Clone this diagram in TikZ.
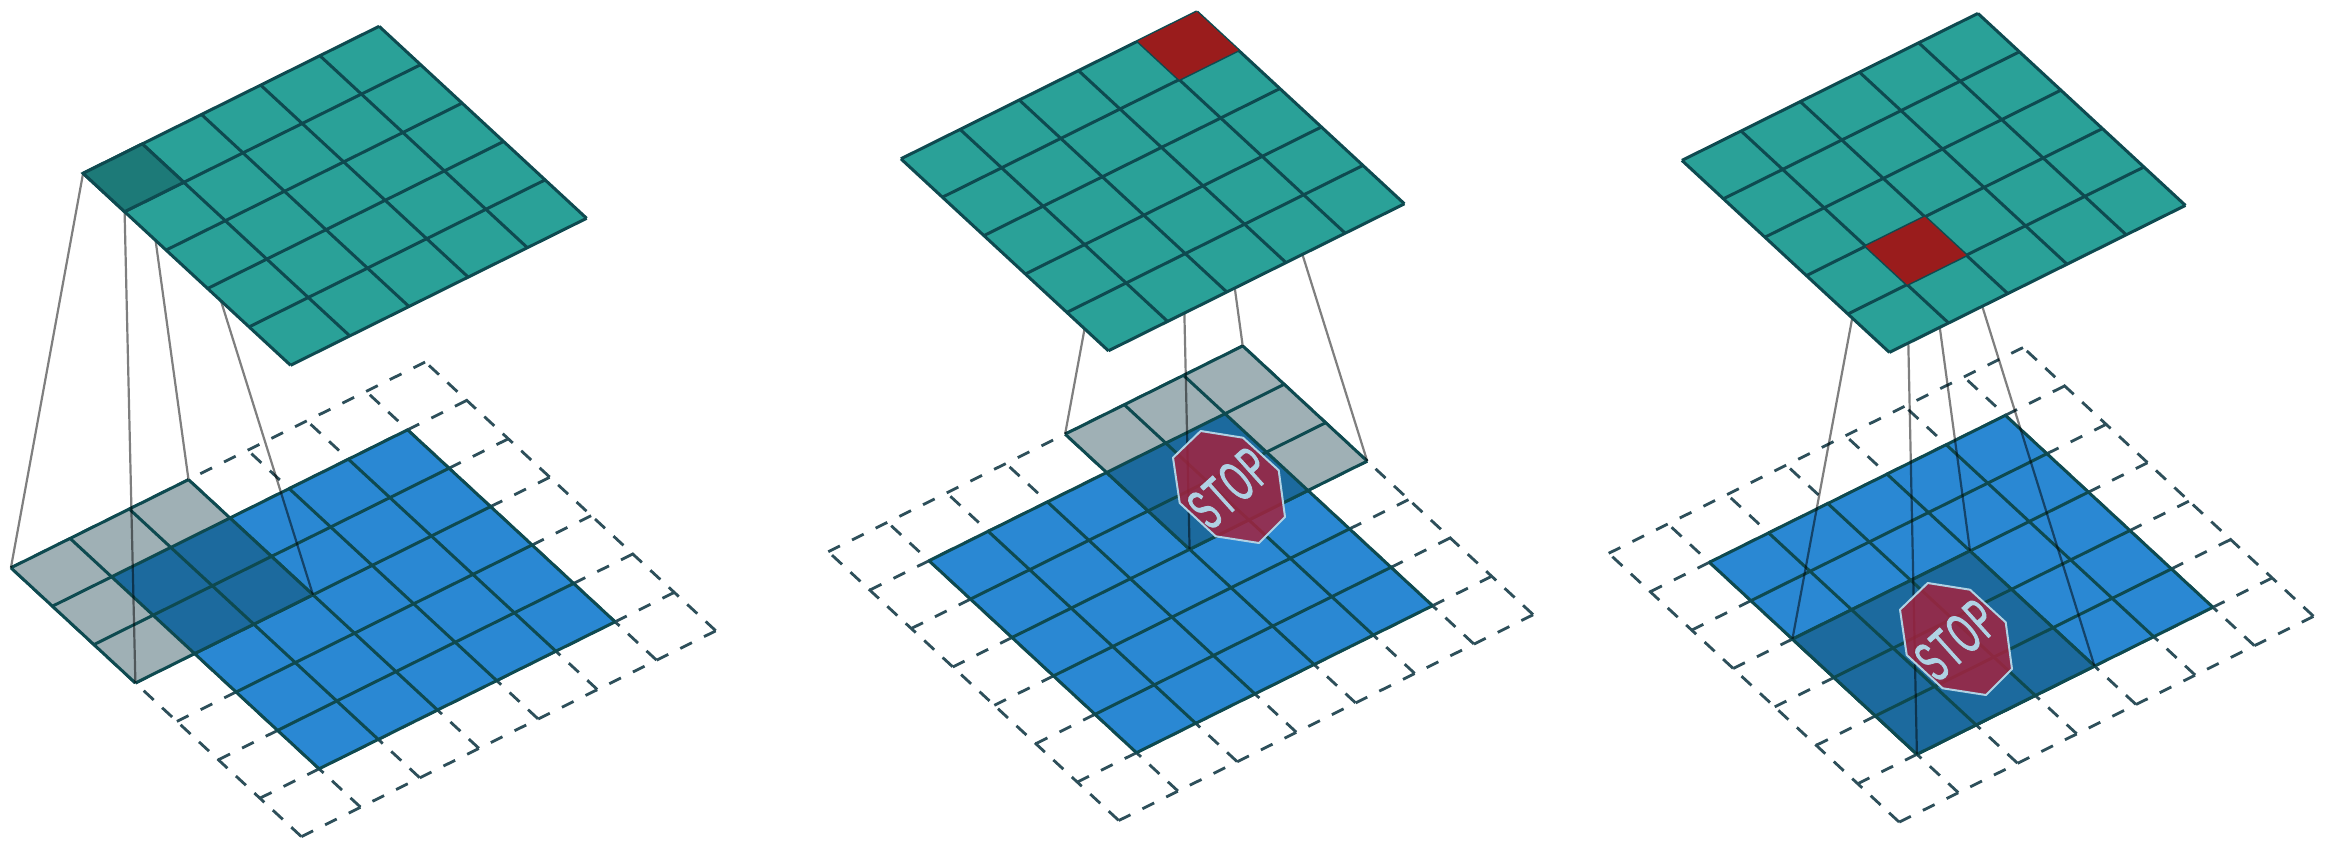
\documentclass[tikz,border=0pt]{standalone}
\usepackage{fontspec}
\setmainfont{Liberation Sans}
\newfontfamily\stopfont[FakeStretch=0.5,FakeBold=1.4,LetterSpace=4]{Liberation Sans}
\definecolor{tealc}{HTML}{2AA198}
\definecolor{tealdark}{HTML}{1D7A78}
\definecolor{gridc}{HTML}{0E4A50}
\definecolor{bluec}{HTML}{2A88D3}
\definecolor{bluedark}{HTML}{1C6A9E}
\definecolor{greyc}{HTML}{9FB0B5}
\definecolor{redc}{HTML}{9A1C1C}
\definecolor{dashc}{HTML}{2D4F5A}
\definecolor{stopred}{HTML}{A3233F}
\definecolor{stopedge}{HTML}{B0D2E4}
\tikzset{
  lat/.style 2 args={shift={(#1pt,-#2pt)},x={(59.2pt,29.4pt)},y={(41.5pt,-38.4pt)}},
  gridline/.style={draw=gridc,line width=3pt,line join=miter},
  dashu/.style={draw=dashc,line width=2.8pt,dash pattern=on 13pt off 13.44pt},
  dashv/.style={draw=dashc,line width=2.8pt,dash pattern=on 13.6pt off 11.53pt,dash phase=20.1pt},
  linkline/.style={draw=black,line width=2.2pt,opacity=0.5},
  darkcell/.style={fill=tealdark,gridline},
  redcell/.style={fill=redc},
  stopsign/.style={fill=stopred,fill opacity=0.85,draw=stopedge,line width=2pt,line join=round},
  stoptext/.style={text=stopedge,font=\stopfont\fontsize{58pt}{58pt}\selectfont,rotate=42,inner sep=0pt}
}
% #1 name, #2 #3 lower grid origin, #4 #5 upper grid origin, #6 #7 kernel/cell index, #8 cell style
\newcommand{\panelgrid}[8]{
  \begin{scope}[lat={#2}{#3}]
    \foreach \i in {0,...,7}{
      \draw[dashv] (\i,0) -- (\i,7);
      \draw[dashu] (0,\i) -- (7,\i);
    }
    \fill[bluec] (1,1) -- (6,1) -- (6,6) -- (1,6) -- cycle;
    \foreach \i in {1,...,6}{
      \draw[gridline] (\i,1) -- (\i,6);
      \draw[gridline] (1,\i) -- (6,\i);
    }
    \pgfmathsetmacro{\kua}{#6}
    \pgfmathsetmacro{\kub}{#6+3}
    \pgfmathsetmacro{\kva}{#7}
    \pgfmathsetmacro{\kvb}{#7+3}
    \pgfmathsetmacro{\oua}{max(#6,1)}
    \pgfmathsetmacro{\oub}{min(#6+3,6)}
    \pgfmathsetmacro{\ova}{max(#7,1)}
    \pgfmathsetmacro{\ovb}{min(#7+3,6)}
    \fill[greyc] (\kua,\kva) -- (\kub,\kva) -- (\kub,\kvb) -- (\kua,\kvb) -- cycle;
    \fill[bluedark] (\oua,\ova) -- (\oub,\ova) -- (\oub,\ovb) -- (\oua,\ovb) -- cycle;
    \foreach \i in {0,...,3}{
      \draw[gridline] (#6+\i,\kva) -- (#6+\i,\kvb);
      \draw[gridline] (\kua,#7+\i) -- (\kub,#7+\i);
    }
    \coordinate (#1-kL) at (\kua,\kva);
    \coordinate (#1-kT) at (\kub,\kva);
    \coordinate (#1-kB) at (\kua,\kvb);
    \coordinate (#1-kR) at (\kub,\kvb);
  \end{scope}
  \begin{scope}[lat={#4}{#5}]
    \coordinate (#1-cL) at (#6,#7);
    \coordinate (#1-cT) at (#6+1,#7);
    \coordinate (#1-cB) at (#6,#7+1);
    \coordinate (#1-cR) at (#6+1,#7+1);
  \end{scope}
  \draw[linkline] (#1-kL) -- (#1-cL);
  \draw[linkline] (#1-kT) -- (#1-cT);
  \draw[linkline] (#1-kB) -- (#1-cB);
  \draw[linkline] (#1-kR) -- (#1-cR);
  \begin{scope}[lat={#4}{#5}]
    \fill[tealc] (0,0) -- (5,0) -- (5,5) -- (0,5) -- cycle;
    \foreach \i in {0,...,5}{
      \draw[gridline] (\i,0) -- (\i,5);
      \draw[gridline] (0,\i) -- (5,\i);
    }
    \path[#8] (#1-cL) -- (#1-cT) -- (#1-cR) -- (#1-cB) -- cycle;
  \end{scope}
}
\newcommand{\stopmark}[3]{
  \begin{scope}[shift={(#2pt,-#3pt)}]
    \path[stopsign] (-56pt,29.3pt) -- (-28.3pt,56pt) -- (14pt,49.3pt) -- (49.7pt,16.7pt)
      -- (56pt,-30pt) -- (30pt,-56pt) -- (-13.3pt,-49.3pt) -- (-49.3pt,-16pt) -- cycle;
    \node[stoptext] (#1) at (0pt,-1pt) {STOP};
  \end{scope}
}
\begin{document}
\begin{tikzpicture}
  \useasboundingbox (0pt,0pt) rectangle (2339pt,-844pt);
  \fill[white] (0pt,0pt) rectangle (2339pt,-844pt);
  \panelgrid{a}{10.9}{567.8}{83.1}{173.3}{0}{0}{darkcell}
  \panelgrid{b}{828.3}{551.7}{900.9}{158.8}{4}{0}{redcell}
  \panelgrid{c}{1608.7}{553.3}{1681.9}{160.4}{1}{3}{redcell}
  \stopmark{stopb}{1229}{487}
  \stopmark{stopc}{1956}{639}
\end{tikzpicture}
\end{document}
